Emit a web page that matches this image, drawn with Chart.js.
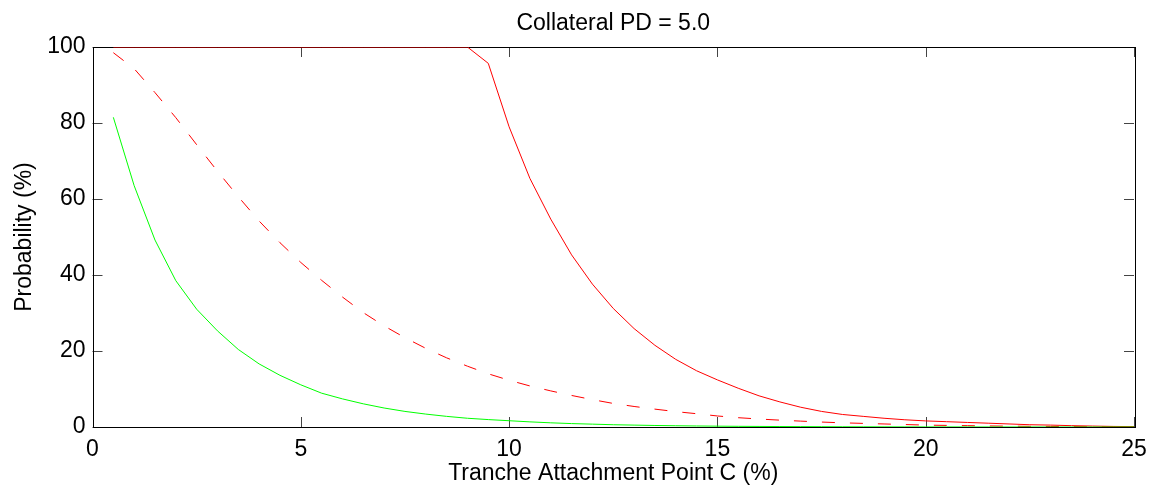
<!DOCTYPE html>
<html>
<head>
<meta charset="utf-8">
<script src="https://cdn.jsdelivr.net/npm/chart.js@4/dist/chart.umd.min.js"></script>
<style>
	html, body { margin: 0; padding: 0; background: #fff; }
	#wrap { width: 1156px; height: 491px; }
</style>
</head>
<body>
<div id="wrap"><canvas id="chart"></canvas></div>
<script>
// #region Data
const attachPoints = [
	0.5, 1, 1.5, 2, 2.5, 3, 3.5, 4, 4.5, 5,
	5.5, 6, 6.5, 7, 7.5, 8, 8.5, 9, 9.5, 10,
	10.5, 11, 11.5, 12, 12.5, 13, 13.5, 14, 14.5, 15,
	15.5, 16, 16.5, 17, 17.5, 18, 18.5, 19, 19.5, 20,
	20.5, 21, 21.5, 22, 22.5, 23, 23.5, 24, 24.5, 25,
];

const greenSeries = [
	81.5, 63.5, 49.2, 38.5, 31.0, 25.3, 20.4, 16.6, 13.6, 11.1,
	8.9, 7.4, 6.1, 5.0, 4.1, 3.4, 2.8, 2.3, 1.95, 1.65,
	1.35, 1.1, 0.9, 0.75, 0.6, 0.5, 0.4, 0.33, 0.27, 0.22,
	0.18, 0.15, 0.12, 0.1, 0.08, 0.06, 0.05, 0.04, 0.03, 0.02,
	0.02, 0.01, 0.01, 0.01, 0.01, 0, 0, 0, 0, 0,
];

const redDashedSeries = [
	98.5, 94.3, 88.0, 81.4, 74.3, 67.3, 60.6, 54.2, 48.5, 43.3,
	38.6, 34.2, 30.1, 26.6, 23.5, 20.7, 18.2, 16.0, 14.0, 12.3,
	10.8, 9.5, 8.3, 7.2, 6.2, 5.4, 4.7, 4.05, 3.5, 2.9,
	2.45, 2.1, 1.8, 1.55, 1.3, 1.1, 0.95, 0.8, 0.65, 0.5,
	0.42, 0.35, 0.28, 0.22, 0.18, 0.14, 0.1, 0.08, 0.05, 0.03,
];

const redSolidSeries = [
	100, 100, 100, 100, 100, 100, 100, 100, 100, 100,
	100, 100, 100, 100, 100, 100, 100, 100, 95.7, 79.0,
	65.4, 54.7, 45.3, 37.6, 31.2, 25.9, 21.5, 17.8, 14.8, 12.4,
	10.2, 8.2, 6.6, 5.2, 4.1, 3.3, 2.8, 2.3, 1.9, 1.6,
	1.4, 1.2, 1.0, 0.8, 0.6, 0.5, 0.35, 0.25, 0.15, 0.1,
];

const xTicks = [0, 5, 10, 15, 20, 25];
const yTicks = [0, 20, 40, 60, 80, 100];
const chartTitle = `Collateral PD = 5.0`;
// #endregion

const fontFamily = `"Liberation Sans", Arial, Helvetica, sans-serif`;
const fontSize = 23;
const toPoints = (values) => attachPoints.map((x, i) => ({ x, y: values[i] }));

// MATLAB-like box with inward ticks on all four sides
const boxPlugin = {
	id: `matlabBox`,
	beforeDatasetsDraw(chart) {
		const { ctx, chartArea: a, scales } = chart;
		const len = 10;
		ctx.save();
		ctx.lineWidth = 1;
		ctx.strokeStyle = `#444`;
		ctx.beginPath();
		for (const v of xTicks) {
			const px = Math.round(scales.x.getPixelForValue(v)) + 0.5;
			ctx.moveTo(px, a.bottom);
			ctx.lineTo(px, a.bottom - len);
			ctx.moveTo(px, a.top);
			ctx.lineTo(px, a.top + len);
		};
		for (const v of yTicks) {
			const py = Math.round(scales.y.getPixelForValue(v)) + 0.5;
			ctx.moveTo(a.left, py);
			ctx.lineTo(a.left + len, py);
			ctx.moveTo(a.right, py);
			ctx.lineTo(a.right - len, py);
		};
		ctx.stroke();
		ctx.strokeStyle = `#000`;
		ctx.strokeRect(
			Math.round(a.left) + 0.5,
			Math.round(a.top) + 0.5,
			Math.round(a.right - a.left),
			Math.round(a.bottom - a.top),
		);
		ctx.restore();
	},
	// title is centred over the plot box, not the whole canvas
	afterDraw(chart) {
		const { ctx, chartArea: a } = chart;
		ctx.save();
		ctx.fillStyle = `#000`;
		ctx.font = `${fontSize}px ${fontFamily}`;
		ctx.textAlign = `center`;
		ctx.textBaseline = `alphabetic`;
		ctx.fillText(chartTitle, (a.left + a.right) / 2, 29.5);
		ctx.restore();
	},
};

new Chart(document.getElementById(`chart`), {
	type: `line`,
	data: {
		datasets: [
			{
				label: `green`,
				data: toPoints(greenSeries),
				borderColor: `#00ff00`,
				borderWidth: 1,
				pointRadius: 0,
				tension: 0,
			},
			{
				label: `red dashed`,
				data: toPoints(redDashedSeries),
				borderColor: `#ff0000`,
				borderWidth: 1,
				borderDash: [13, 15],
				pointRadius: 0,
				tension: 0,
			},
			{
				label: `red solid`,
				data: toPoints(redSolidSeries),
				borderColor: `#ff0000`,
				borderWidth: 1,
				pointRadius: 0,
				tension: 0,
			},
		],
	},
	options: {
		responsive: true,
		maintainAspectRatio: false,
		animation: false,
		events: [],
		layout: {
			padding: { top: 47, right: 22, bottom: 0, left: 0 },
		},
		plugins: {
			legend: { display: false },
			tooltip: { enabled: false },
			title: { display: false },
		},
		scales: {
			x: {
				type: `linear`,
				min: 0,
				max: 25,
				afterBuildTicks: (scale) => {
					scale.ticks = xTicks.map((value) => ({ value }));
				},
				afterFit: (scale) => {
					scale.height = 64;
				},
				border: { display: false },
				grid: { display: false, drawTicks: false },
				ticks: {
					color: `#000`,
					padding: 9,
					maxRotation: 0,
					font: { family: fontFamily, size: fontSize },
				},
				title: {
					display: true,
					text: `Tranche Attachment Point C (%)`,
					color: `#000`,
					font: { family: fontFamily, size: fontSize },
					padding: { top: 0, bottom: 4 },
				},
			},
			y: {
				type: `linear`,
				min: 0,
				max: 100,
				afterBuildTicks: (scale) => {
					scale.ticks = yTicks.map((value) => ({ value }));
				},
				afterFit: (scale) => {
					scale.width = 92.5;
				},
				border: { display: false },
				grid: { display: false, drawTicks: false },
				ticks: {
					color: `#000`,
					padding: 7,
					font: { family: fontFamily, size: fontSize },
				},
				title: {
					display: true,
					text: `Probability (%)`,
					color: `#000`,
					font: { family: fontFamily, size: fontSize },
					padding: { top: 11, bottom: 0 },
				},
			},
		},
	},
	plugins: [boxPlugin],
});
</script>
</body>
</html>
